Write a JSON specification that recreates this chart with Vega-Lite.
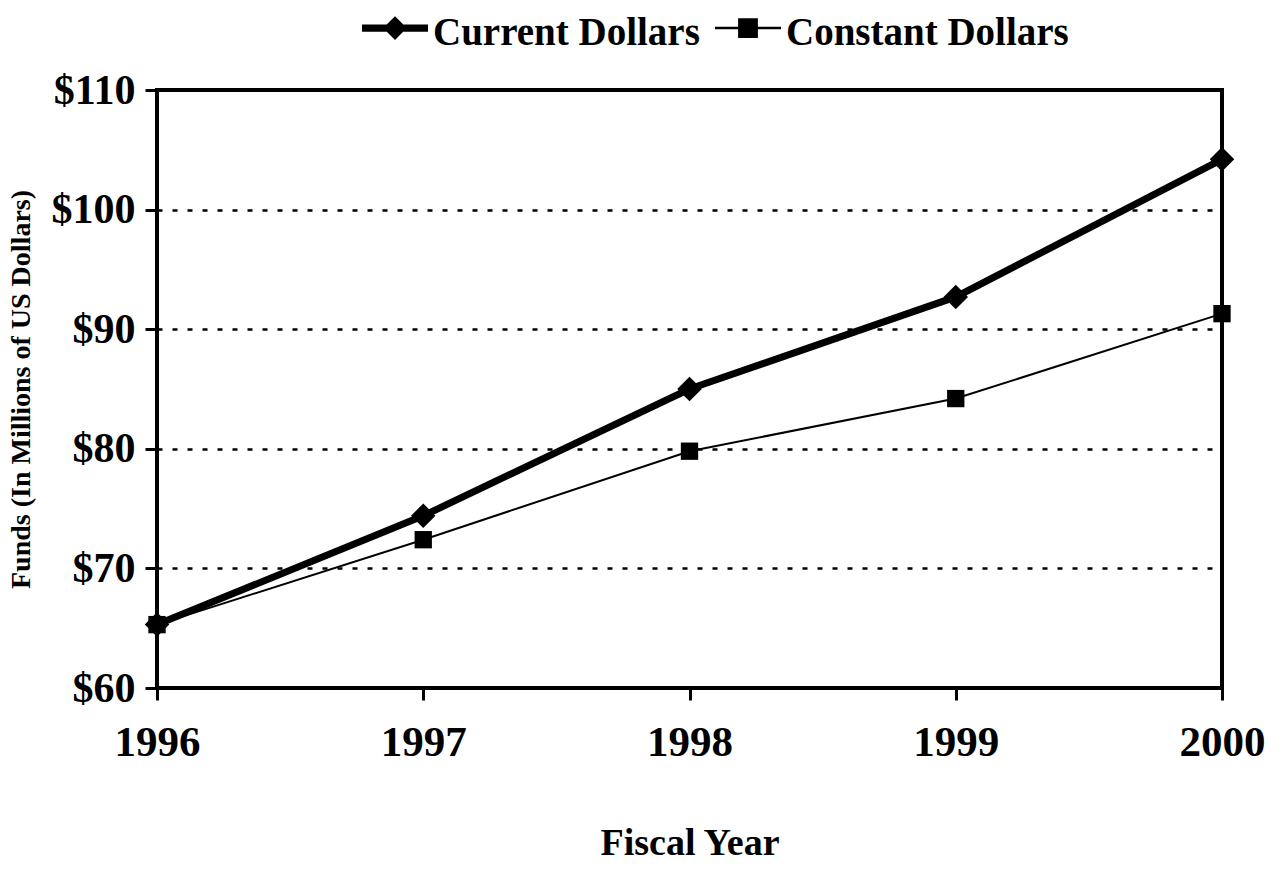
{
  "$schema": "https://vega.github.io/schema/vega-lite/v6.json",
  "width": 1065,
  "height": 598,
  "autosize": {"type": "none"},
  "padding": {"left": 157, "top": 90, "right": 55, "bottom": 184},
  "background": "white",
  "config": {
    "view": {"stroke": "black", "strokeWidth": 4},
    "font": "Liberation Serif",
    "axis": {
      "domain": false,
      "labelFont": "Liberation Serif",
      "labelFontWeight": "bold",
      "labelFontSize": 40,
      "labelColor": "black",
      "titleFont": "Liberation Serif",
      "titleFontWeight": "bold",
      "titleColor": "black",
      "tickColor": "black",
      "tickWidth": 3,
      "tickSize": 12
    }
  },
  "data": {
    "values": [
      {"year": 1996, "series": "Current Dollars", "value": 65.3},
      {"year": 1997, "series": "Current Dollars", "value": 74.4},
      {"year": 1998, "series": "Current Dollars", "value": 85.0},
      {"year": 1999, "series": "Current Dollars", "value": 92.7},
      {"year": 2000, "series": "Current Dollars", "value": 104.2},
      {"year": 1996, "series": "Constant Dollars", "value": 65.3},
      {"year": 1997, "series": "Constant Dollars", "value": 72.4},
      {"year": 1998, "series": "Constant Dollars", "value": 79.8},
      {"year": 1999, "series": "Constant Dollars", "value": 84.2},
      {"year": 2000, "series": "Constant Dollars", "value": 91.3}
    ]
  },
  "encoding": {
    "x": {
      "field": "year",
      "type": "quantitative",
      "scale": {"domain": [1996, 2000], "nice": false, "zero": false},
      "axis": {
        "values": [1996, 1997, 1998, 1999, 2000],
        "format": "d",
        "grid": false,
        "labelFontSize": 43,
        "labelPadding": 21,
        "labelFlush": false,
        "title": "Fiscal Year",
        "titleFontSize": 38,
        "titlePadding": 60
      }
    },
    "y": {
      "field": "value",
      "type": "quantitative",
      "scale": {"domain": [60, 110], "nice": false, "zero": false},
      "axis": {
        "values": [60, 70, 80, 90, 100, 110],
        "labelExpr": "'$' + datum.value",
        "labelFontSize": 42,
        "labelPadding": 10,
        "grid": true,
        "gridColor": "black",
        "gridWidth": 2.5,
        "gridDash": [5, 10],
        "title": "Funds (In Millions of US Dollars)",
        "titleFontSize": 28,
        "titlePadding": 16
      }
    }
  },
  "layer": [
    {
      "transform": [{"filter": "datum.series === 'Constant Dollars'"}],
      "mark": {"type": "line", "color": "black", "strokeWidth": 2}
    },
    {
      "transform": [{"filter": "datum.series === 'Current Dollars'"}],
      "mark": {"type": "line", "color": "black", "strokeWidth": 7}
    },
    {
      "transform": [{"filter": "datum.series === 'Constant Dollars'"}],
      "mark": {"type": "point", "shape": "square", "filled": true, "color": "black", "opacity": 1, "size": 300}
    },
    {
      "transform": [{"filter": "datum.series === 'Current Dollars'"}],
      "mark": {"type": "point", "shape": "diamond", "filled": true, "color": "black", "opacity": 1, "size": 600}
    },
    {
      "transform": [{"filter": "false"}],
      "mark": {"type": "point", "filled": true, "color": "black", "opacity": 1},
      "encoding": {
        "shape": {
          "field": "series",
          "type": "nominal",
          "scale": {
            "domain": ["Current Dollars", "Constant Dollars"],
            "range": [
              "M-1,-0.26L1,-0.26L1,-0.04L-1,-0.04Z M0,-0.51L0.36,-0.15L0,0.21L-0.36,-0.15Z",
              "M-1,-0.19L1,-0.19L1,-0.11L-1,-0.11Z M-0.3,-0.45L0.3,-0.45L0.3,0.15L-0.3,0.15Z"
            ]
          },
          "legend": {
            "title": null,
            "orient": "none",
            "direction": "horizontal",
            "legendX": 205,
            "legendY": -90,
            "padding": 0,
            "symbolSize": 4356,
            "symbolStrokeWidth": 0,
            "labelFont": "Liberation Serif",
            "labelFontWeight": "bold",
            "labelFontSize": 39,
            "labelColor": "black",
            "labelOffset": 5,
            "columnPadding": 15,
            "labelLimit": 400
          }
        }
      }
    }
  ]
}
